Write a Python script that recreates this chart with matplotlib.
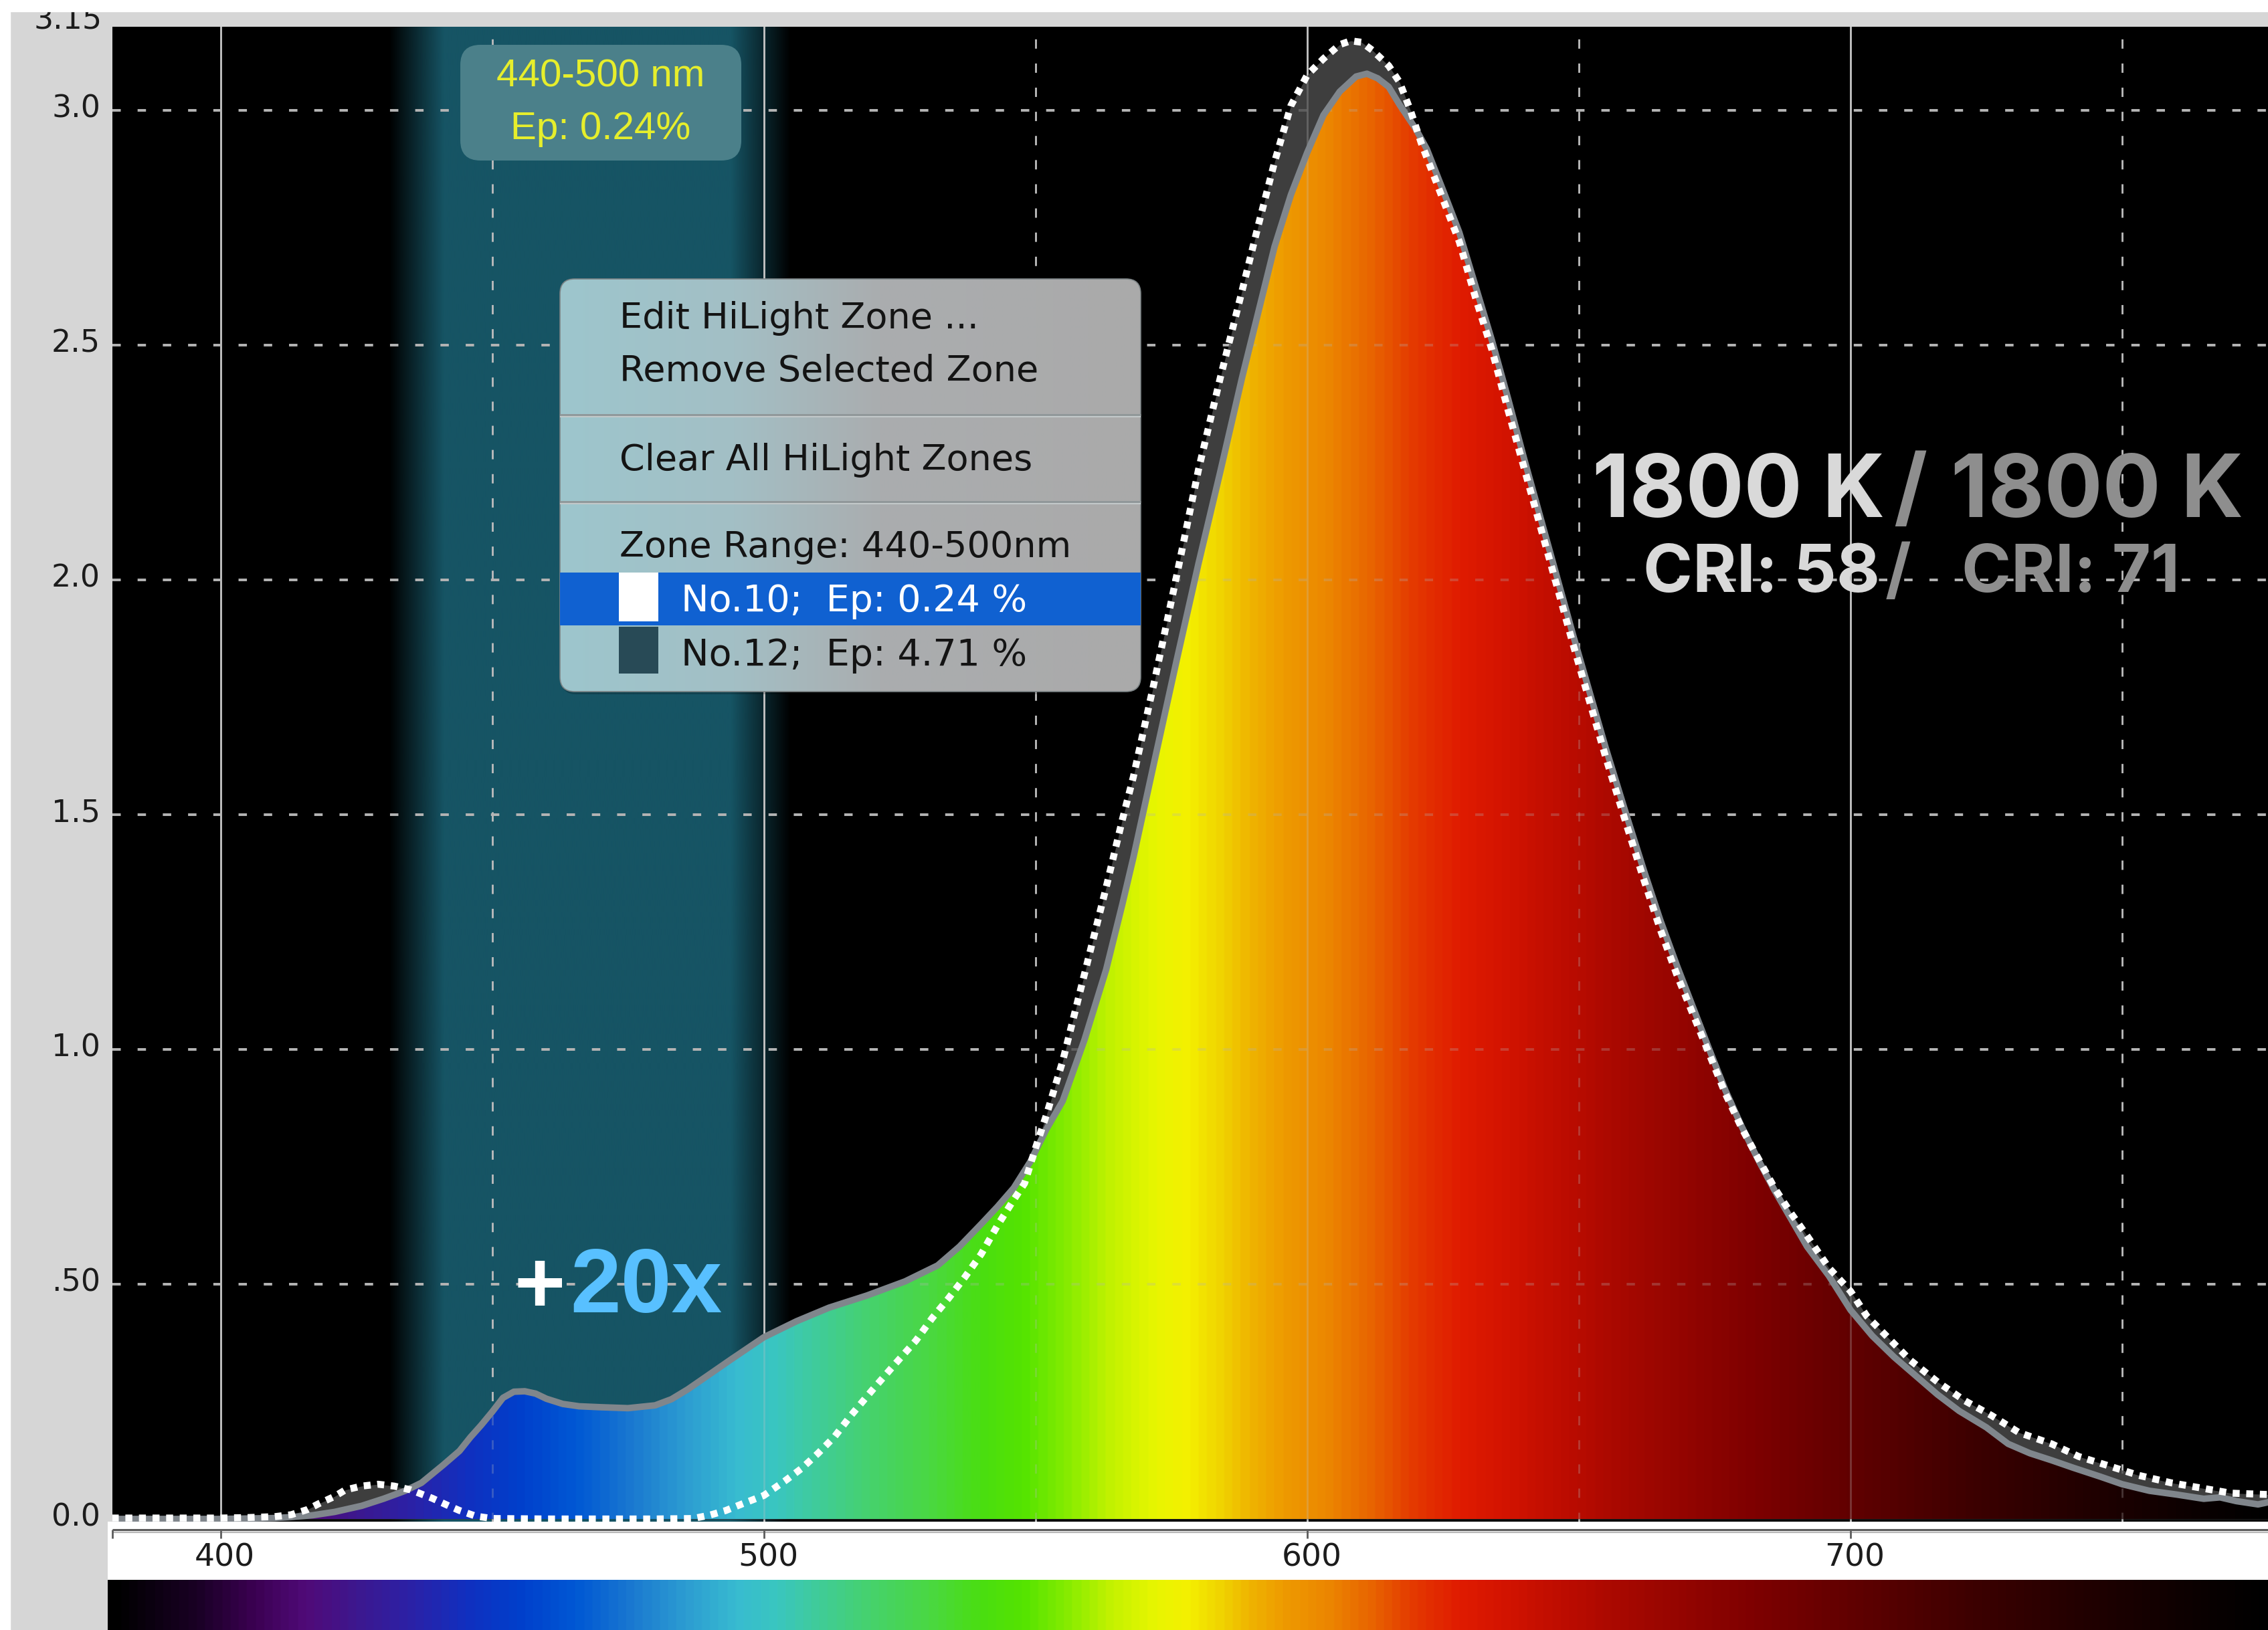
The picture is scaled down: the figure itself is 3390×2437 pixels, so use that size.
import numpy as np
import matplotlib
matplotlib.use('Agg')
import matplotlib.pyplot as plt
import matplotlib.transforms as mtransforms
from matplotlib.colors import LinearSegmentedColormap, Normalize, to_rgb
from matplotlib.patches import FancyBboxPatch, Rectangle

W, H, DPI = 3391, 2437, 100

# Spectra: wavelength (nm) and relative power
wl_solid = [380, 390, 400, 405, 410, 413, 417, 421, 426, 430,
            434, 437, 441, 444, 446, 448, 450, 452, 454, 456,
            458, 460, 463, 466, 470, 475, 480, 483, 486, 489,
            494, 500, 506, 512, 519, 526, 532, 536, 540, 543,
            546, 549, 552, 555, 559, 563, 566, 568, 572, 576,
            580, 584, 588, 591, 594, 597, 600, 603, 606, 609,
            611, 613, 615, 617, 620, 622, 625, 628, 631, 634,
            637, 640, 643, 646, 649, 652, 655, 659, 662, 665,
            668, 671, 674, 677, 680, 683, 686, 689, 692, 696,
            700, 704, 708, 712, 716, 720, 725, 729, 733, 737,
            741, 746, 750, 755, 760, 765, 768, 771, 775, 777]
val_solid = [0.0, 0.0, 0.0, 0.001, 0.002, 0.004, 0.008, 0.015, 0.028, 0.043,
             0.060, 0.077, 0.115, 0.145, 0.174, 0.200, 0.228, 0.258, 0.271, 0.272,
             0.267, 0.256, 0.245, 0.240, 0.238, 0.236, 0.242, 0.255, 0.276, 0.300,
             0.340, 0.387, 0.421, 0.450, 0.476, 0.506, 0.540, 0.580, 0.628, 0.665,
             0.705, 0.760, 0.830, 0.890, 1.020, 1.170, 1.310, 1.408, 1.620, 1.830,
             2.035, 2.230, 2.430, 2.570, 2.710, 2.820, 2.910, 2.990, 3.040, 3.072,
             3.078, 3.068, 3.050, 3.012, 2.960, 2.918, 2.830, 2.740, 2.625, 2.510,
             2.385, 2.255, 2.130, 2.005, 1.880, 1.760, 1.640, 1.490, 1.380, 1.275,
             1.180, 1.090, 1.000, 0.912, 0.835, 0.765, 0.700, 0.640, 0.580, 0.518,
             0.445, 0.390, 0.345, 0.305, 0.265, 0.230, 0.195, 0.160, 0.140, 0.125,
             0.109, 0.090, 0.074, 0.060, 0.052, 0.043, 0.046, 0.038, 0.031, 0.036]

wl_dotted = [380, 390, 400, 405, 410, 413, 416, 418, 421, 423,
             426, 429, 432, 435, 439, 442, 444, 447, 450, 460,
             470, 480, 487, 490, 493, 496, 500, 504, 507, 510,
             513, 516, 520, 524, 528, 531, 534, 537, 540, 543,
             546, 548, 550, 552, 555, 559, 563, 566, 568, 572,
             576, 580, 584, 588, 591, 594, 597, 600, 603, 606,
             608, 610, 612, 615, 617, 619, 621, 625, 628, 631,
             634, 637, 640, 643, 646, 649, 652, 655, 659, 662,
             665, 668, 671, 674, 677, 680, 683, 686, 689, 692,
             696, 700, 703, 707, 711, 716, 721, 726, 731, 737,
             742, 747, 753, 759, 765, 770, 777]
val_dotted = [0.002, 0.002, 0.002, 0.003, 0.005, 0.009, 0.020, 0.032, 0.048, 0.062,
              0.070, 0.074, 0.070, 0.062, 0.044, 0.028, 0.018, 0.006, 0.001, 0.0,
              0.0, 0.0, 0.001, 0.008, 0.018, 0.032, 0.050, 0.082, 0.108, 0.140,
              0.175, 0.220, 0.275, 0.328, 0.380, 0.428, 0.470, 0.515, 0.564, 0.625,
              0.680, 0.715, 0.790, 0.860, 0.975, 1.160, 1.345, 1.490, 1.580, 1.790,
              2.010, 2.235, 2.430, 2.615, 2.755, 2.890, 3.010, 3.075, 3.110, 3.140,
              3.148, 3.145, 3.128, 3.095, 3.060, 3.000, 2.930, 2.810, 2.720, 2.600,
              2.490, 2.360, 2.235, 2.110, 1.985, 1.860, 1.740, 1.620, 1.470, 1.360,
              1.255, 1.160, 1.075, 0.990, 0.905, 0.832, 0.768, 0.705, 0.652, 0.603,
              0.535, 0.485, 0.432, 0.385, 0.338, 0.292, 0.252, 0.220, 0.184, 0.160,
              0.133, 0.115, 0.093, 0.077, 0.065, 0.055, 0.052]

zone = (440, 500)
zone_label = ['440-500 nm', 'Ep: 0.24%']
menu_items = ['Edit HiLight Zone ...', 'Remove Selected Zone',
              'Clear All HiLight Zones', 'Zone Range: 440-500nm']
zone_rows = ['No.10;  Ep: 0.24 %', 'No.12;  Ep: 4.71 %']
cct = ['1800 K', '1800 K']
cri = ['CRI: 58', 'CRI: 71']

ytick_vals = [0.0, 0.5, 1.0, 1.5, 2.0, 2.5, 3.0]
ytick_labels = ['0.0', '.50', '1.0', '1.5', '2.0', '2.5', '3.0']
xtick_vals = [400, 500, 600, 700]
xgrid_dashed = [450, 550, 650, 750]
ygrid = [0.5, 1.0, 1.5, 2.0, 2.5, 3.0]

# colour stops of the rainbow fill
spec_nm = [380, 395, 405, 415, 425, 435, 445, 455, 465, 475, 485, 495, 502,
           510, 520, 530, 540, 548, 556, 564, 572, 578, 584, 590, 596, 604,
           612, 620, 628, 636, 648, 660, 672, 684, 696, 710, 725, 745, 765, 777]
spec_col = ['#000000', '#1a0025', '#3a0050', '#500a78', '#3c1890', '#2a22a8',
            '#1030c0', '#0040cc', '#0058d4', '#1a78d0', '#2c9cd2', '#38bcd0',
            '#3ac6c0', '#40cc98', '#46d26a', '#4ad844', '#4ade10', '#56e400',
            '#88ec00', '#c4f200', '#e8f600', '#f4f000', '#f0d400', '#efb200',
            '#ee9a00', '#ec8600', '#e86400', '#e43800', '#e01c00', '#d41400',
            '#bc0c00', '#a40800', '#900400', '#7c0000', '#680000', '#520000',
            '#3a0000', '#200000', '#0a0000', '#000000']


def box(x0, y0, x1, y1):
    # pixel rectangle measured from the top left -> figure fraction
    return [x0 / W, 1 - y1 / H, (x1 - x0) / W, (y1 - y0) / H]


spec_cmap = LinearSegmentedColormap.from_list(
    'spec', list(zip([(n - 380) / (777 - 380) for n in spec_nm], spec_col)))
spec_cmap.set_under('black')
spec_norm = Normalize(380, 777)

fig = plt.figure(figsize=(W / DPI, H / DPI), dpi=DPI, facecolor='#d6d6d6')

XL = (380.115, 776.95)
YL = (-0.0057, 3.178)
ax = fig.add_axes(box(168, 40, W, 2275))
ax.set_facecolor('black')

# highlight zone with soft edges
xs = np.linspace(zone[0] - 12, zone[1] + 8, 600)
alpha = np.clip(np.minimum((xs - zone[0] + 9) / 10, (zone[1] + 5 - xs) / 11), 0, 1)
zimg = np.zeros((1, xs.size, 4))
zimg[..., :3] = to_rgb('#165464')
zimg[0, :, 3] = alpha
ax.imshow(zimg, extent=[xs[0], xs[-1], YL[0], YL[1]], aspect='auto',
          interpolation='bilinear', zorder=1)


def grid(z, a):
    for v in xtick_vals:
        ax.axvline(v, color='#c4c4c4', lw=2.0, alpha=a, zorder=z)
    for v in xgrid_dashed:
        ax.axvline(v, color='#bcbcbc', lw=2.0, ls=(0, (5, 8)), alpha=a, zorder=z)
    for v in ygrid:
        ax.axhline(v, color='#b4b4b4', lw=2.8, ls=(0, (3.2, 6.5)), alpha=a, zorder=z)


grid(2, 1.0)

ax.fill_between(wl_dotted, val_dotted, 0, color='#3e3e3e', lw=0, zorder=2.5)
poly = ax.fill_between(wl_solid, val_solid, 0, color='none', lw=0, zorder=3)
grad = np.linspace(XL[0], XL[1], 1600)[None, :]
im = ax.imshow(grad, cmap=spec_cmap, norm=spec_norm, extent=[XL[0], XL[1], 0, YL[1]],
               aspect='auto', interpolation='bilinear', zorder=3)
im.set_clip_path(poly.get_paths()[0], ax.transData)

grid(3.5, 0.28)

ax.plot(wl_solid, val_solid, color='#80868c', lw=7, zorder=5, solid_joinstyle='round')
ax.plot(wl_dotted, val_dotted, color='white', lw=7.5, ls=(0, (1, 0.95)), zorder=6)

ax.set_xlim(*XL)
ax.set_ylim(*YL)
ax.set_xticks([])
ax.set_yticks(ytick_vals, ytick_labels)
ax.tick_params(axis='y', length=0, pad=13, labelsize=33, labelcolor='#1c1c1c')
for s in ax.spines.values():
    s.set_visible(False)
shift = mtransforms.ScaledTranslation(0, 7 / DPI, fig.dpi_scale_trans)
for t in ax.get_yticklabels():
    t.set_transform(t.get_transform() + shift)

# white x axis strip
XL2 = (379.25, XL[1])
axx = fig.add_axes(box(161, 2275, W, 2362))
axx.set_xlim(*XL2)
axx.set_ylim(2362, 2275)
axx.set_facecolor('white')
axx.set_xticks([])
axx.set_yticks([])
for s in axx.spines.values():
    s.set_visible(False)
axx.hlines(2287, XL[0], XL2[1], color='#5c5c5c', lw=2.2)
axx.hlines(2290.5, XL[0], XL2[1], color='#b8b8b8', lw=1.6)
axx.vlines([XL[0]] + xtick_vals, 2287, 2300, color='#5c5c5c', lw=2)
for v in xtick_vals:
    axx.text(v + 0.8, 2329, str(v), ha='center', va='center', fontsize=34, color='#1c1c1c')

# rainbow bar at the bottom
axb = fig.add_axes(box(161, 2362, W, H))
axb.imshow(np.linspace(XL2[0], XL2[1], 1600)[None, :], cmap=spec_cmap, norm=spec_norm,
           extent=[XL2[0], XL2[1], 0, 1], aspect='auto', interpolation='bilinear')
axb.set_xlim(*XL2)
axb.axis('off')

# overlay in pixel coordinates for the screen furniture
ov = fig.add_axes([0, 0, 1, 1], zorder=10)
ov.axis('off')

ov.text(153, 43, '3.15', ha='right', va='baseline', fontsize=33, color='#1c1c1c')
ov.add_patch(Rectangle((0, 0), W, 17, color='white', zorder=20))
ov.add_patch(Rectangle((0, 0), 15, H, color='white', zorder=20))

# zone label at the top of the zone
cx = ax.transData.transform((np.mean(zone), 0))[0]
ov.add_patch(FancyBboxPatch((cx - 210, 67), 420, 173,
                            boxstyle='round,pad=0,rounding_size=30',
                            fc='#4b808a', ec='none', zorder=11))
for txt, yb in zip(zone_label, [130, 208]):
    ov.text(cx, yb, txt, ha='center', va='baseline', fontsize=42,
            color='#e6ee2c', family='Liberation Sans', zorder=12)

# context menu
pm = (837, 417, 1705, 1034)
ov.add_patch(FancyBboxPatch((pm[0] + 2, pm[1] + 4), pm[2] - pm[0], pm[3] - pm[1],
                            boxstyle='round,pad=0,rounding_size=22',
                            fc='black', ec='none', alpha=0.2, zorder=11))
pop = FancyBboxPatch((pm[0], pm[1]), pm[2] - pm[0], pm[3] - pm[1],
                     boxstyle='round,pad=0,rounding_size=22',
                     fc='none', ec='#7c8486', lw=1.2, zorder=12)
ov.add_patch(pop)
gpos = np.linspace(0, 1, 400)
cstops = [0, 0.3, 0.55, 1]
cvals = np.array([[157, 198, 205], [163, 191, 197], [170, 173, 175], [170, 170, 170]]) / 255
gimg = np.stack([np.interp(gpos, cstops, cvals[:, k]) for k in range(3)], axis=-1)[None]
pim = ov.imshow(gimg, extent=[pm[0], pm[2], pm[3], pm[1]], aspect='auto',
                interpolation='bilinear', zorder=11.5)
pim.set_clip_path(pop)

ov.hlines([620, 750], pm[0], pm[2], color='#8f9698', lw=2, zorder=13)
ov.hlines([623, 753], pm[0], pm[2], color='#c2c8c9', lw=1.5, zorder=13)
ov.add_patch(Rectangle((pm[0], 856), pm[2] - pm[0], 79, fc='#1061d1', ec='none', zorder=13))
ov.add_patch(Rectangle((925, 856), 59, 73, fc='white', ec='none', zorder=14))
ov.add_patch(Rectangle((925, 937), 59, 70, fc='#284a56', ec='none', zorder=14))

for txt, yb in zip(menu_items, [491, 570, 703, 833]):
    ov.text(926, yb, txt, ha='left', va='baseline', fontsize=39, color='#141414', zorder=15)
for txt, yb, c in zip(zone_rows, [914, 995], ['white', '#141414']):
    ov.text(1018, yb, txt, ha='left', va='baseline', fontsize=40, color=c, zorder=15)

# colour temperature / CRI annotation
big = dict(family='Inter', weight='bold', ha='left', va='baseline', zorder=15)
ov.text(2380, 773, cct[0], fontsize=93, color='#d9d9d9', **big)
ov.text(2830, 773, '/', fontsize=93, color='#8e8e8e', **big)
ov.text(2916, 773, cct[1], fontsize=93, color='#8e8e8e', **big)
ov.text(2456, 885, cri[0], fontsize=72, color='#d9d9d9', **big)
ov.text(2818, 885, '/', fontsize=72, color='#8e8e8e', **big)
ov.text(2932, 885, cri[1], fontsize=72, color='#8e8e8e', **big)

plus = dict(family='Liberation Sans', weight='bold', ha='left', va='baseline', zorder=15)
ov.text(769, 1962, '+', color='white', fontsize=94, **plus)
ov.text(852, 1962, '20x', color='#58c0ff', fontsize=98, **plus)

ov.set_xlim(0, W)
ov.set_ylim(H, 0)

fig.savefig('out.png', dpi=DPI, facecolor=fig.get_facecolor())
